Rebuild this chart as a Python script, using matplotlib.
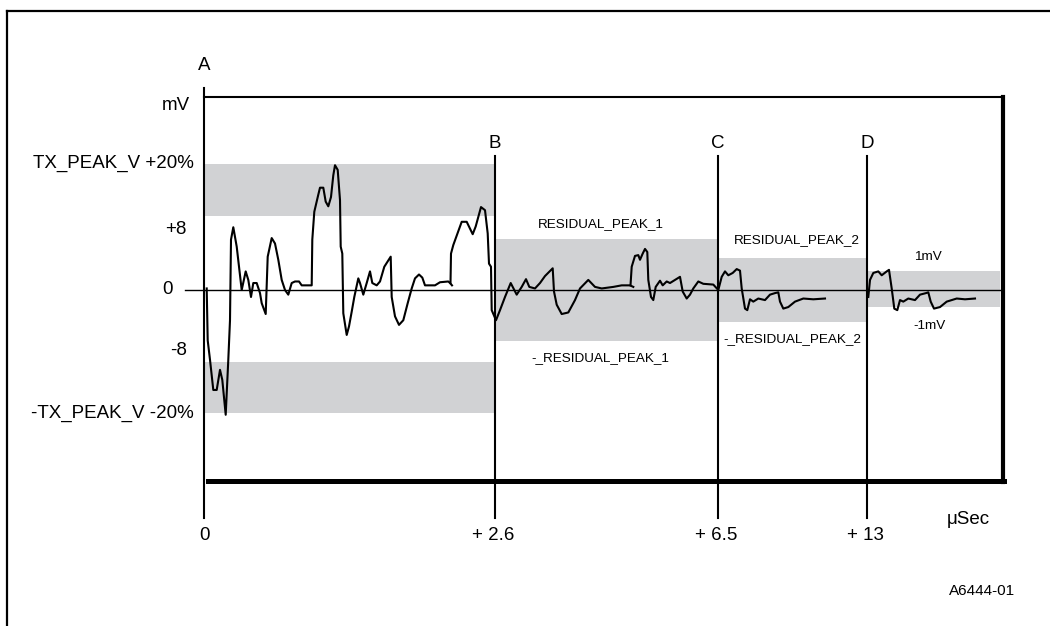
import matplotlib
matplotlib.use('Agg')
import matplotlib.pyplot as plt
from matplotlib.lines import Line2D

plt.rcParams['font.family'] = ['Liberation Sans', 'DejaVu Sans']

# waveform traces: x = position along the (non-linear) time axis, y = mV
seg1_x = [2.7, 3.7, 6.0, 9.3, 12.7, 16.0, 18.3, 21.7, 24.3, 26.0, 27.0, 29.3, 32.7, 37.7, 41.7,
          44.3, 47.0, 49.3, 52.7, 56.0, 57.7, 61.7, 63.7, 67.7, 71.0, 74.3, 77.7, 81.0, 84.3,
          87.7, 91.0, 95.0, 97.7, 104.3, 107.7, 108.3, 110.3, 114.3, 116.0, 119.3, 121.7, 124.3,
          127.0, 129.3, 131.0, 133.7, 136.0, 136.7, 138.3, 139.3, 142.7, 145.0, 147.7, 150.3,
          154.3, 156.0, 159.3, 162.7, 166.0, 168.3, 172.7, 176.0, 180.3, 186.7, 187.7, 191.0,
          195.0, 199.3, 203.7, 207.7, 211.0, 215.0, 218.3, 221.0, 224.3, 231.0, 236.0, 244.3,
          246.0, 248.0]
seg1_y = [0.2, -6.5, -9.0, -12.9, -12.9, -10.3, -11.6, -16.1, -9.0, -3.9, 6.5, 8.1, 5.6, 0.0, 2.4,
          1.3, -0.9, 0.9, 0.9, -0.4, -1.7, -3.1, 4.3, 6.7, 6.0, 3.9, 1.3, 0.0, -0.6,
          0.9, 1.1, 1.1, 0.6, 0.6, 0.6, 6.5, 10.1, 12.3, 13.2, 13.2, 11.4, 10.8,
          12.0, 14.8, 16.1, 15.5, 11.6, 5.6, 4.7, -3.0, -5.8, -4.7, -2.8, -0.9,
          1.5, 0.9, -0.6, 0.9, 2.4, 0.9, 0.6, 1.1, 3.0, 4.3, -0.9, -3.4,
          -4.5, -3.9, -1.7, 0.2, 1.5, 2.0, 1.6, 0.6, 0.6, 0.6, 1.0, 1.1,
          0.9, 0.6]
seg2_x = [246.5, 247.0, 249.3, 257.7, 262.7, 268.7, 271.7, 277.0, 281.0, 283.7, 285.0, 287.0,
          287.7, 292.0, 296.0, 301.0, 306.7, 312.7, 317.7, 322.0, 325.3, 331.0, 336.0, 341.0,
          348.7, 350.0, 352.7, 357.7, 364.3, 371.0, 376.0, 384.3, 391.0, 397.7, 409.3, 417.7,
          426.0, 429.3]
seg2_y = [0.9, 4.7, 5.8, 8.8, 8.8, 7.2, 8.2, 10.7, 10.3, 7.3, 3.4, 3.0,
          -2.6, -3.9, -2.6, -0.9, 0.9, -0.6, 0.4, 1.4, 0.4, 0.2, 0.9, 1.8,
          2.8, -0.2, -1.9, -3.1, -2.9, -1.3, 0.2, 1.3, 0.4, 0.2, 0.4, 0.6,
          0.6, 0.4]
seg3_x = [426.5, 427.7, 431.0, 434.3, 436.0, 438.7, 441.0, 443.3, 444.3, 447.0, 449.3, 451.7,
          456.0, 458.7, 462.7, 466.0, 471.0, 476.0, 478.7, 482.7, 486.0, 489.3, 494.3, 499.3,
          509.3, 514.3, 517.7, 521.0, 524.3, 528.7, 532.7, 536.0, 537.7, 541.0, 543.3, 546.0,
          549.3, 554.3, 561.0, 566.0, 571.0, 574.3, 576.0, 579.3, 584.3, 591.0, 599.3, 609.3,
          621.0]
seg3_y = [0.6, 3.0, 4.4, 4.5, 3.9, 4.7, 5.3, 4.9, 1.3, -0.9, -1.3, 0.4,
          1.2, 0.6, 1.1, 0.9, 1.3, 1.7, -0.2, -1.1, -0.6, 0.2, 1.1, 0.8,
          0.7, 0.0, 1.7, 2.4, 1.9, 2.2, 2.7, 2.5, 0.2, -2.4, -2.6, -1.2,
          -1.5, -1.1, -1.3, -0.6, -0.4, -0.3, -1.5, -2.4, -2.2, -1.5, -1.1, -1.2,
          -1.1]
seg4_x = [664.3, 666.0, 669.3, 674.3, 677.7, 682.7, 685.0, 687.7, 690.3, 693.3, 696.0, 699.3,
          704.3, 711.0, 716.0, 722.0, 724.3, 726.7, 730.0, 736.0, 742.7, 752.7, 761.0, 771.0]
seg4_y = [-0.9, 1.3, 2.2, 2.4, 1.9, 2.4, 2.6, 0.2, -2.4, -2.6, -1.3, -1.5,
          -1.1, -1.3, -0.6, -0.4, -0.3, -1.5, -2.4, -2.2, -1.5, -1.1, -1.2, -1.1]

# marker positions A-D and their time labels
mark_x = [0, 291, 513.7, 663.3]
mark_names = ['A', 'B', 'C', 'D']
mark_times = ['0', '+ 2.6', '+ 6.5', '+ 13']

# grey limit bands: (x start, x end, low mV, high mV)
bands = [(0, 291, 9.5, 16.3), (0, 291, -15.9, -9.3),
         (291, 513.7, -6.6, 6.6), (513.7, 663.3, -4.1, 4.1), (663.3, 796, -2.2, 2.45)]

# y labels (mV)
ylab_vals = [16.3, 7.8, 0, -7.8, -15.9]
ylab_text = ['TX_PEAK_V +20%', '+8', '0', '-8', '-TX_PEAK_V -20%']
ylab_off = [-10, -17, -31, -17, -10]

W, H = 1050, 626
fig = plt.figure(figsize=(W / 100, H / 100), dpi=100)
fig.patch.set_facecolor('white')

def ypx(p):
    # pixel row -> mV (zero at row 290, 7.75 px per mV)
    return (290 - p) / 7.75

ax = fig.add_axes([204 / W, (H - 481) / H, 800 / W, 384 / H])
ax.set_xlim(0, 800)
ax.set_ylim(ypx(481), ypx(97))
ax.axis('off')

grey = '#d1d2d4'
for x0, x1, lo, hi in bands:
    ax.fill_between([x0, x1], lo, hi, color=grey, lw=0, zorder=1)

# box with drop-shadow look
ax.plot([0, 799], [ypx(97)] * 2, c='k', lw=1.5, clip_on=False, zorder=4)
ax.plot([798.5, 798.5], [ypx(97), ypx(482)], c='k', lw=3, clip_on=False, zorder=4)
ax.plot([4, 800], [ypx(480.8)] * 2, c='k', lw=3.6, clip_on=False, zorder=4)

# zero line
ax.plot([-19, 798], [0, 0], c='k', lw=1, clip_on=False, zorder=3)

# marker lines
for i, x in enumerate(mark_x):
    top = ypx(88) if i == 0 else ypx(156)
    ax.plot([x, x], [top, ypx(518)], c='k', lw=1.5, clip_on=False, zorder=4)
    ax.text(x, ypx(65) if i == 0 else ypx(143), mark_names[i], ha='center', va='center',
            fontsize=13.5, clip_on=False)
    ax.text(x - (2 if i else 0), ypx(535), mark_times[i], ha='center', va='center',
            fontsize=13.5, clip_on=False)

# waveform
for sx, sy in [(seg1_x, seg1_y), (seg2_x, seg2_y), (seg3_x, seg3_y), (seg4_x, seg4_y)]:
    ax.plot(sx, sy, c='k', lw=1.5, zorder=5, solid_joinstyle='round')

for v, t, o in zip(ylab_vals, ylab_text, ylab_off):
    ax.text(o, v, t, ha='right', va='center', fontsize=13.5, clip_on=False)
ax.text(-14, ypx(106), 'mV', ha='right', va='center', fontsize=13.5, clip_on=False)
ax.text(786, ypx(520), 'μSec', ha='right', va='center', fontsize=13.5, clip_on=False)
ax.text(811, ypx(591), 'A6444-01', ha='right', va='center', fontsize=11, clip_on=False)

fs = 9.7
ax.text(397, ypx(224), 'RESIDUAL_PEAK_1', ha='center', va='center', fontsize=fs)
ax.text(396, ypx(358), '-_RESIDUAL_PEAK_1', ha='center', va='center', fontsize=fs)
ax.text(593, ypx(240), 'RESIDUAL_PEAK_2', ha='center', va='center', fontsize=fs)
ax.text(588, ypx(339), '-_RESIDUAL_PEAK_2', ha='center', va='center', fontsize=fs)
ax.text(724, ypx(257), '1mV', ha='center', va='center', fontsize=fs)
ax.text(725, ypx(326), '-1mV', ha='center', va='center', fontsize=fs)

# outer frame (left and top only)
fig.add_artist(Line2D([7 / W, 7 / W], [0, 1 - 11 / H], color='k', lw=1.6))
fig.add_artist(Line2D([7 / W, 1], [1 - 11 / H, 1 - 11 / H], color='k', lw=1.6))

fig.savefig('out.png', dpi=100, facecolor='white')
